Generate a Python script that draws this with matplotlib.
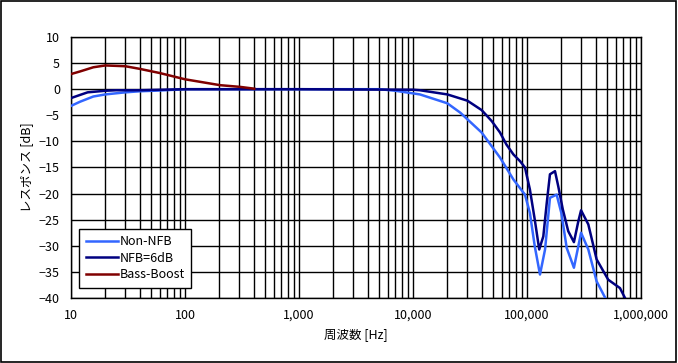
import numpy as np
import matplotlib
matplotlib.use("Agg")
import matplotlib.pyplot as plt
from matplotlib.ticker import FixedLocator, FuncFormatter, NullFormatter
from matplotlib.patches import Rectangle

plt.rcParams['font.family'] = ['Noto Sans CJK JP', 'DejaVu Sans']

# Non-NFB response (Hz, dB)
non_nfb_f = [10, 12, 15.7, 20, 30, 40, 60, 100, 1000, 5100, 7000, 10000, 11500, 20000, 26000,
             40000, 58000, 76000, 96000, 106000, 117000, 130000, 144000, 159000, 182000,
             200000, 223000, 258000, 298000, 345000, 408000, 486000]
non_nfb_db = [-3.2, -2.4, -1.4, -1.0, -0.6, -0.4, -0.25, 0.0, 0.0, 0.0, -0.3, -0.8, -1.0, -2.7, -4.5,
              -8.3, -13.1, -17.3, -20.2, -23.7, -30.1, -35.5, -30.7, -20.8, -20.2,
              -23.7, -30.4, -34.2, -27.5, -30.7, -36.8, -40.0]

# NFB=6dB response
nfb_f = [10, 12, 14, 20, 25, 40, 100, 1000, 10000, 11500, 20000, 30000, 40000, 49000, 58000,
         66000, 76000, 87000, 96000, 106000, 117000, 128000, 139000, 149000, 159000, 176000,
         188000, 206000, 230000, 258000, 282000, 298000, 345000, 408000, 516000, 654000, 724000]
nfb_db = [-1.7, -1.1, -0.6, -0.3, -0.2, -0.2, 0.0, 0.0, -0.1, -0.2, -1.0, -2.2, -4.0, -6.1, -8.3,
          -10.6, -12.5, -13.8, -15.0, -19.2, -25.0, -30.7, -28.2, -21.8, -16.3, -15.7,
          -18.6, -23.0, -27.2, -29.3, -25.3, -23.2, -25.9, -32.6, -36.5, -38.1, -40.0]

# Bass-Boost response
bass_f = [10, 12, 15.7, 20, 30, 40, 60, 100, 203, 303, 405]
bass_db = [2.9, 3.4, 4.2, 4.55, 4.4, 3.9, 3.1, 1.9, 0.77, 0.45, 0.1]

fig = plt.figure(figsize=(6.78, 3.63), dpi=100)
ax = fig.add_axes([71 / 678, 65 / 363, 570 / 678, 261 / 363])

ax.plot(non_nfb_f, non_nfb_db, color='#3366ff', lw=1.8, label='Non-NFB', zorder=3)
ax.plot(nfb_f, nfb_db, color='#000080', lw=1.8, label='NFB=6dB', zorder=4)
ax.plot(bass_f, bass_db, color='#800000', lw=1.8, label='Bass-Boost', zorder=5)

ax.set_xscale('log')
ax.set_xlim(10, 1e6)
ax.set_ylim(-40, 10)
ax.set_yticks(np.arange(-40, 11, 5))
ax.xaxis.set_major_locator(FixedLocator([10, 100, 1000, 1e4, 1e5, 1e6]))
ax.xaxis.set_minor_locator(FixedLocator([m * 10 ** e for e in range(1, 6) for m in range(2, 10)]))
ax.xaxis.set_major_formatter(FuncFormatter(lambda v, p: f'{int(round(v)):,}'))
ax.xaxis.set_minor_formatter(NullFormatter())
ax.tick_params(which='both', length=0, labelsize=9, pad=8)

ax.grid(which='major', color='black', lw=1)
ax.grid(which='minor', axis='x', color='black', lw=1)
for s in ax.spines.values():
    s.set_color('black')
    s.set_linewidth(1)

ax.set_xlabel('周波数 [Hz]', fontsize=9, labelpad=4)
ax.set_ylabel('レスポンス [dB]', fontsize=9, labelpad=4)

leg = ax.legend(loc='lower left', bbox_to_anchor=(0.008, 0.025), fontsize=9, fancybox=False,
                framealpha=1, edgecolor='black', handlelength=2.6, handletextpad=0.1,
                borderpad=0.5, labelspacing=0.3, borderaxespad=0.3)
leg.get_frame().set_linewidth(1)

fig.patches.append(Rectangle((0.002, 0.003), 0.995, 0.993, transform=fig.transFigure,
                             fill=False, edgecolor='black', lw=1.2))

fig.savefig('out.png', dpi=100)
